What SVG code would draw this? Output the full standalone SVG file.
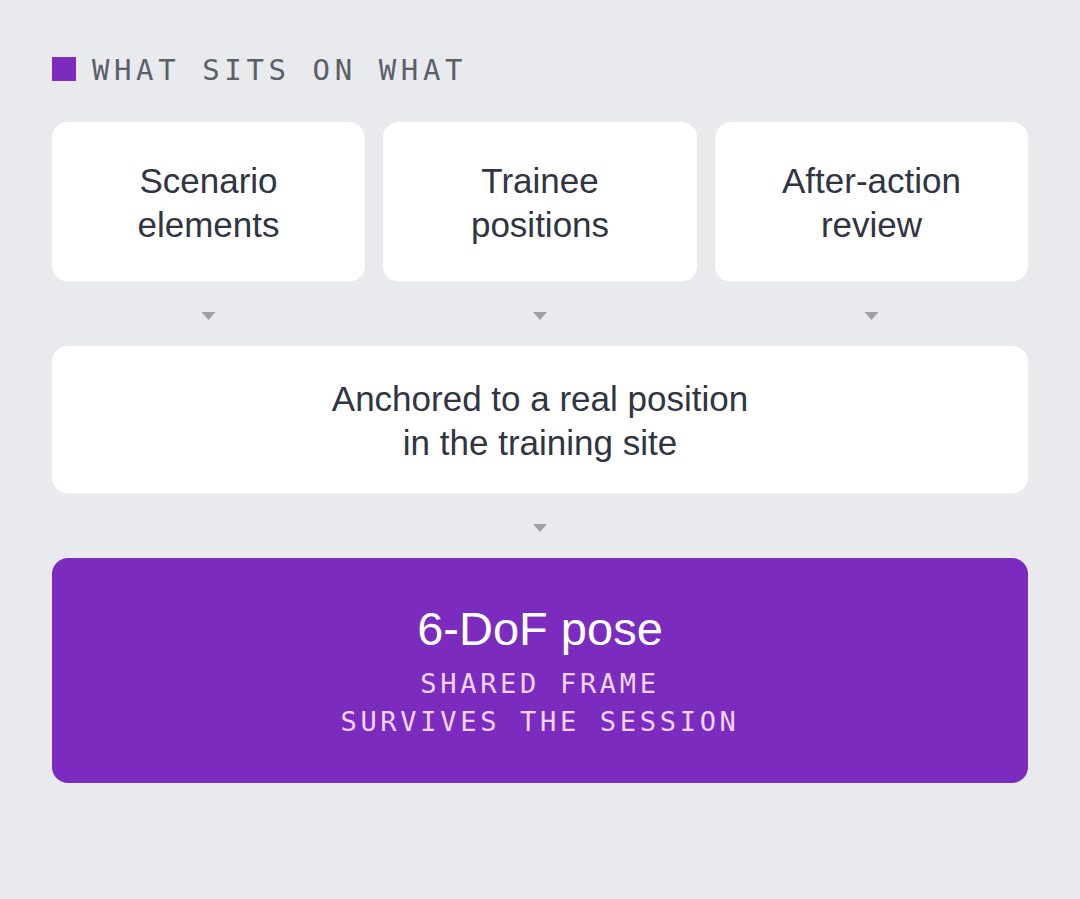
<svg xmlns="http://www.w3.org/2000/svg" width="1080" height="899" viewBox="0 0 1080 899">
<style>
.card{fill:#ffffff}
.lbl{font-family:"Liberation Sans",Arial,sans-serif;font-size:35px;fill:#2f3542;text-anchor:middle}
.mono{font-family:"DejaVu Sans Mono","Liberation Mono",monospace}
.arr{fill:#9ca0a8}
</style>
<rect width="1080" height="899" fill="#e9eaee"/>
<g id="legend">
<rect x="52" y="57" width="24" height="24" fill="#7b2cbf"/>
<text x="92" y="80" class="mono" font-size="29" letter-spacing="4.6" fill="#5b6068">WHAT SITS ON WHAT</text>
</g>
<g id="node-scenario">
<rect class="card" x="52" y="122" width="313" height="159.5" rx="16"/>
<text class="lbl" x="208.5" y="193">Scenario</text>
<text class="lbl" x="208.5" y="237">elements</text>
</g>
<g id="node-trainee">
<rect class="card" x="383" y="122" width="314" height="159.5" rx="16"/>
<text class="lbl" x="540" y="193">Trainee</text>
<text class="lbl" x="540" y="237">positions</text>
</g>
<g id="node-review">
<rect class="card" x="715" y="122" width="313" height="159.5" rx="16"/>
<text class="lbl" x="871.5" y="193">After-action</text>
<text class="lbl" x="871.5" y="237">review</text>
</g>
<g id="node-anchored">
<rect class="card" x="52" y="346" width="976" height="147.5" rx="16"/>
<text class="lbl" x="540" y="411">Anchored to a real position</text>
<text class="lbl" x="540" y="455">in the training site</text>
</g>
<g id="node-pose">
<rect x="52" y="558" width="976" height="225" rx="16" fill="#7b2cbf"/>
<text x="540" y="645" font-family="Liberation Sans,Arial,sans-serif" font-size="47" fill="#ffffff" text-anchor="middle">6-DoF pose</text>
<text x="540" y="693" class="mono" font-size="27" letter-spacing="3.7" fill="#f2d4ff" text-anchor="middle">SHARED FRAME</text>
<text x="540" y="731" class="mono" font-size="27" letter-spacing="3.7" fill="#f2d4ff" text-anchor="middle">SURVIVES THE SESSION</text>
</g>
<g id="connectors">
<polygon class="arr" points="201.5,312 215.5,312 208.5,320"/>
<polygon class="arr" points="533,312 547,312 540,320"/>
<polygon class="arr" points="864.5,312 878.5,312 871.5,320"/>
<polygon class="arr" points="533,524 547,524 540,532"/>
</g>
</svg>
